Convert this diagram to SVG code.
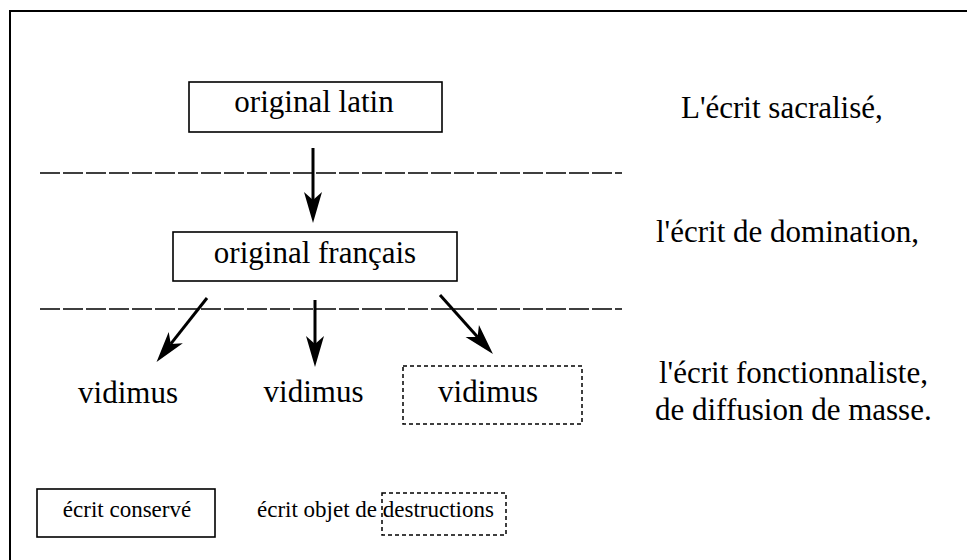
<svg xmlns="http://www.w3.org/2000/svg" width="967" height="560" viewBox="0 0 967 560">
<defs>
<marker id="ah" markerUnits="userSpaceOnUse" markerWidth="32" markerHeight="20" refX="8" refY="10" orient="auto" viewBox="0 0 32 20">
<path d="M0,1 L31,10 L0,19 L8,10 Z" fill="#000"/>
</marker>
</defs>
<rect width="967" height="560" fill="#fff"/>
<path d="M10,560 V11 H967" fill="none" stroke="#000" stroke-width="2"/>
<g id="separators" fill="none" stroke="#000" stroke-width="1.5" stroke-dasharray="20 3">
<line x1="40" y1="173" x2="622" y2="173"/>
<line x1="40" y1="309" x2="622" y2="309"/>
</g>
<g id="connectors" fill="none" stroke="#000" stroke-width="3" marker-end="url(#ah)">
<line x1="313" y1="148" x2="313" y2="200"/>
<line x1="207" y1="298" x2="170.8" y2="343.9"/>
<line x1="315" y1="300" x2="315" y2="344"/>
<line x1="440" y1="295" x2="477.6" y2="336.9"/>
</g>
<g font-family="Liberation Serif" font-size="31" fill="#000">
<g id="original-latin">
<rect x="189" y="82" width="253" height="50" fill="none" stroke="#000" stroke-width="1.6"/>
<text x="314" y="112" text-anchor="middle">original latin</text>
</g>
<g id="original-francais">
<rect x="173" y="232" width="284" height="49" fill="none" stroke="#000" stroke-width="1.6"/>
<text x="315" y="263" text-anchor="middle">original français</text>
</g>
<g id="vidimus-1">
<text x="128" y="403" text-anchor="middle">vidimus</text>
</g>
<g id="vidimus-2">
<text x="313.5" y="402" text-anchor="middle">vidimus</text>
</g>
<g id="vidimus-3">
<rect x="403" y="366" width="179" height="58" fill="none" stroke="#000" stroke-width="1.5" stroke-dasharray="4 3"/>
<text x="488" y="402" text-anchor="middle">vidimus</text>
</g>
<g id="labels">
<text x="681" y="118">L'écrit sacralisé,</text>
<text x="656" y="242">l'écrit de domination,</text>
<text x="659" y="383">l'écrit fonctionnaliste,</text>
<text x="655" y="420">de diffusion de masse.</text>
</g>
<g id="legend-conserve" font-size="23">
<rect x="37" y="489" width="178" height="48" fill="none" stroke="#000" stroke-width="1.6"/>
<text x="127" y="517" text-anchor="middle">écrit conservé</text>
</g>
<g id="legend-destruction" font-size="23">
<rect x="382" y="493" width="124" height="42" fill="none" stroke="#000" stroke-width="1.5" stroke-dasharray="4 3"/>
<text x="257" y="517">écrit objet de destructions</text>
</g>
</g>
</svg>
